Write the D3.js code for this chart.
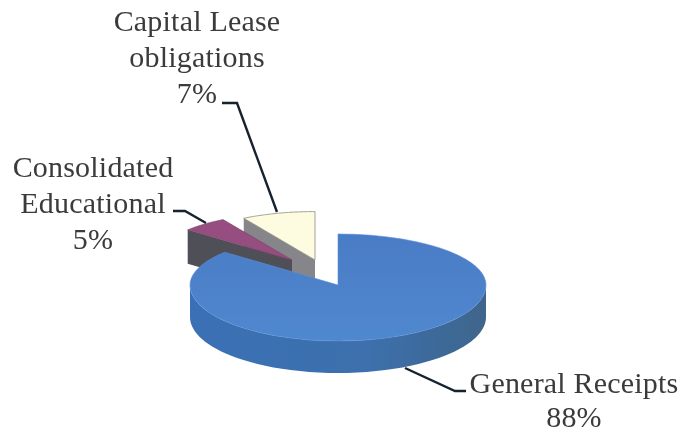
<!DOCTYPE html>
<html><head><meta charset="utf-8">
<script src="https://cdn.jsdelivr.net/npm/d3@7"></script>
<style>html,body{margin:0;background:#fff}svg{display:block}text{font-family:"Liberation Serif",serif;fill:#3a3a3a;font-size:30px;letter-spacing:.2px}</style>
</head><body><svg id="c" width="683" height="434"></svg>
<script>
const categories = ["General Receipts", "Consolidated Educational", "Capital Lease obligations"];
const values = [88, 5, 7];
const labelLines = [["General Receipts", "88%"], ["Consolidated", "Educational", "5%"], ["Capital Lease", "obligations", "7%"]];

// layout, kept apart from the data
const cx = 338, cy = 285, rx = 148, ryBack = 51, ryFront = 56, warp = 6.8 * Math.PI / 180;
const offsets = [[0, 0], [-46, -25], [-23, -25]];
const radiusScale = [1, 0.92, 0.95];
const sliceDepth = [32, 34, 30];
const topFill = ["url(#blueTop)", "#964e80", "#fdfbe0"];
const cutFill = ["#3f6ea6", "#4f4f58", "#85858a"];
const labelX = [574, 93, 197];
const labelY = [393, 177, 31];
const lineGap = [34, 36, 36];
const leaders = [[[405, 368], [455, 391], [466, 391]], [[173, 211], [185, 211], [206, 223]], [[222, 103], [237, 103], [277, 212]]];

const svg = d3.select("#c");
const defs = svg.append("defs");
const g1 = defs.append("linearGradient").attr("id", "blueTop").attr("x1", 0).attr("y1", 0).attr("x2", 0).attr("y2", 1);
g1.append("stop").attr("offset", 0).attr("stop-color", "#4a7cc6");
g1.append("stop").attr("offset", 1).attr("stop-color", "#5088cf");
const g2 = defs.append("linearGradient").attr("id", "blueSide").attr("x1", 0).attr("y1", 0).attr("x2", 1).attr("y2", 0);
g2.append("stop").attr("offset", 0).attr("stop-color", "#3a6fb6");
g2.append("stop").attr("offset", .6).attr("stop-color", "#3c70ac");
g2.append("stop").attr("offset", 1).attr("stop-color", "#3f658c");
defs.append("filter").attr("id", "scan").append("feGaussianBlur").attr("stdDeviation", 0.5);

const root = svg.append("g").attr("filter", "url(#scan)");
const pie = d3.pie().sort(null).value(d => d);
const arcs = pie(values);
const line = d3.line();

const warped = a => a + warp * Math.sin(2 * a);
const pt = (a, i, dz = 0) => {
  const t = warped(a), c = Math.cos(t), s = radiusScale[i], o = offsets[i];
  return [cx + o[0] + s * rx * Math.sin(t), cy + o[1] - s * (c > 0 ? ryBack : ryFront) * c + dz];
};
const sample = (a0, a1, i, dz = 0) => d3.range(0, 61).map(k => pt(a0 + (a1 - a0) * k / 60, i, dz));
const apex = (i, dz = 0) => [cx + offsets[i][0], cy + offsets[i][1] + dz];

// back to front: capital lease, consolidated, general receipts
[2, 1, 0].forEach(i => {
  const d = arcs[i], h = sliceDepth[i];
  if (i !== 0) {
    const e = d.startAngle;
    root.append("path").attr("d", line([apex(i), pt(e, i), pt(e, i, h), apex(i, h)]) + "Z").attr("fill", cutFill[i]);
  } else {
    const a0 = Math.PI / 2 - 0.02, a1 = 3 * Math.PI / 2 + 0.02;
    root.append("path").attr("d", line(sample(a0, a1, i).concat(sample(a1, a0, i, h))) + "Z").attr("fill", "url(#blueSide)");
  }
  root.append("path").attr("d", line([apex(i)].concat(sample(d.startAngle, d.endAngle, i))) + "Z").attr("fill", topFill[i])
    .attr("stroke", i === 0 ? "#5b8fd6" : i === 2 ? "#8a8a80" : "#7d3f68").attr("stroke-width", i === 2 ? 0.8 : 0.6);
});

leaders.forEach(l => root.append("path").attr("d", line(l)).attr("fill", "none").attr("stroke", "#16222e").attr("stroke-width", 2.4));

labelLines.forEach((ls, i) => {
  ls.forEach((t, j) => root.append("text").attr("x", labelX[i]).attr("y", labelY[i] + j * lineGap[i]).attr("text-anchor", "middle").text(t));
});
</script></body></html>
